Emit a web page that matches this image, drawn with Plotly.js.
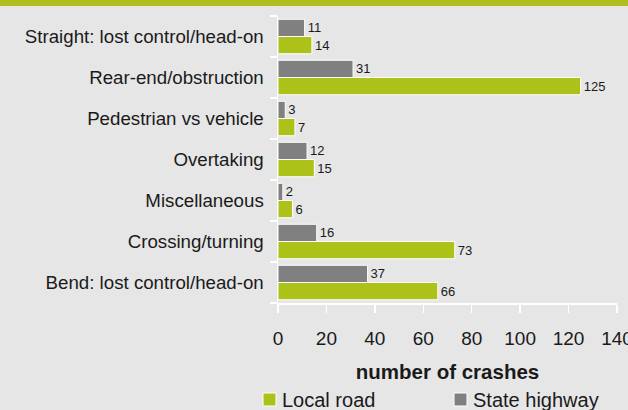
<!DOCTYPE html>
<html>
<head>
<meta charset="utf-8">
<script src="https://cdn.plot.ly/plotly-3.0.1.min.js"></script>
<style>html,body{margin:0;padding:0;background:#e6e6e6;}#chart{width:628px;height:410px;}</style>
</head>
<body>
<div id="chart"></div>
<script>
// Categories listed top to bottom as in the chart
const categories = [
  "Straight: lost control/head-on",
  "Rear-end/obstruction",
  "Pedestrian vs vehicle",
  "Overtaking",
  "Miscellaneous",
  "Crossing/turning",
  "Bend: lost control/head-on"
];
const localRoad = [14, 125, 7, 15, 6, 73, 66];
const stateHighway = [11, 31, 3, 12, 2, 16, 37];
const xTicks = [0, 20, 40, 60, 80, 100, 120, 140];
const seriesNames = ["Local road", "State highway"];

const FONT = "Liberation Sans, Arial, Helvetica, sans-serif";
const GREEN = "#adc219";
const GREY = "#808080";
const TXT = "#1a1a1a";

const traces = [
  {
    type: "bar", orientation: "h", name: seriesNames[0],
    y: categories, x: localRoad,
    text: localRoad.map(String), textposition: "outside",
    textfont: {family: FONT, size: 13, color: TXT},
    marker: {color: GREEN, line: {color: "#ffffff", width: 1}},
    cliponaxis: false, hoverinfo: "x+y"
  },
  {
    type: "bar", orientation: "h", name: seriesNames[1],
    y: categories, x: stateHighway,
    text: stateHighway.map(String), textposition: "outside",
    textfont: {family: FONT, size: 13, color: TXT},
    marker: {color: GREY, line: {color: "#ffffff", width: 1}},
    cliponaxis: false, hoverinfo: "x+y"
  }
];

// pixel -> paper helpers (plot area: x 278..617, y 16..303)
const PL = 278, PW = 339, PB = 303, PH = 287;
const px = v => (v - PL) / PW;
const py = v => (PB - v) / PH;

// Manual legend (squares + labels) below the x-axis title
const legendItems = [
  {name: seriesNames[0], color: GREEN, x: 263},
  {name: seriesNames[1], color: GREY, x: 454}
];
const legendShapes = legendItems.map(it => ({
  type: "rect", xref: "paper", yref: "paper",
  x0: px(it.x), x1: px(it.x + 13), y0: py(406), y1: py(393),
  fillcolor: it.color, line: {color: "#ffffff", width: 1}, layer: "above"
}));
const legendAnn = legendItems.map(it => ({
  xref: "paper", yref: "paper", x: px(it.x + 17), y: py(399.5),
  xanchor: "left", yanchor: "middle", showarrow: false,
  text: it.name, font: {family: FONT, size: 20, color: TXT}
}));

const layout = {
  width: 628, height: 410,
  paper_bgcolor: "#e6e6e6", plot_bgcolor: "#e6e6e6",
  margin: {l: 278, r: 11, t: 16, b: 107},
  font: {family: FONT, color: TXT, size: 18},
  barmode: "group", bargap: 0.16, bargroupgap: 0,
  showlegend: false,
  xaxis: {
    range: [0, 140], tickmode: "array", tickvals: xTicks,
    ticktext: xTicks.map(String),
    showgrid: false, zeroline: false,
    showline: true, linecolor: "#ffffff", linewidth: 1.5,
    ticks: "outside", ticklen: 8, tickwidth: 1.5, tickcolor: "#ffffff",
    tickfont: {family: FONT, size: 19, color: TXT},
    ticklabelstandoff: 10, ticklabeloverflow: "allow",
    title: {text: "<b>number of crashes</b>", font: {family: FONT, size: 20.5, color: TXT}, standoff: 16},
    fixedrange: true
  },
  yaxis: {
    type: "category", categoryorder: "array", categoryarray: categories.slice().reverse(),
    autorange: true,
    showgrid: false, zeroline: false,
    showline: true, linecolor: "#ffffff", linewidth: 1.5,
    ticks: "outside", tickson: "boundaries", ticklen: 7, tickwidth: 1.5, tickcolor: "#ffffff",
    tickfont: {family: FONT, size: 18.7, color: TXT},
    ticklabelstandoff: 9,
    fixedrange: true
  },
  shapes: [
    {type: "rect", xref: "paper", yref: "paper", x0: -1, x1: 1.1, y0: py(6), y1: py(-4),
     fillcolor: "#afbf1e", line: {width: 0}, layer: "above"}
  ].concat(legendShapes),
  annotations: legendAnn
};

Plotly.newPlot("chart", traces, layout, {displayModeBar: false, staticPlot: true});
</script>
</body>
</html>
